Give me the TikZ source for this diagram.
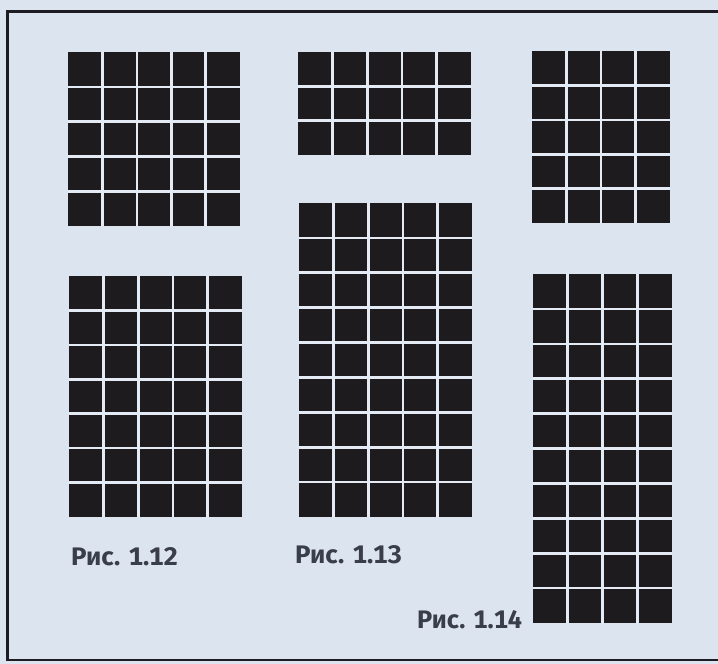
\documentclass[tikz,border=0pt]{standalone}
\usepackage{fontspec}
\setmainfont{Fira Sans}[Numbers=Monospaced]
\definecolor{bgc}{HTML}{DCE5EF}
\definecolor{cellc}{HTML}{1E1B1E}
\definecolor{gapc}{HTML}{E4EBF4}
\definecolor{framec}{HTML}{1C1C22}
\definecolor{labelc}{HTML}{3A3D4A}
\newcommand\gridblock[6]{%
  \fill[cellc] (#1,#2) rectangle (#3,#4);
  \pgfmathsetmacro\gbdx{(#3-#1)/#5}%
  \pgfmathsetmacro\gbdy{(#4-#2)/#6}%
  \pgfmathtruncatemacro\gbnc{#5-1}%
  \pgfmathtruncatemacro\gbnr{#6-1}%
  \foreach \gi in {1,...,\gbnc} {\draw[gapline] ({#1+\gi*\gbdx},#2) -- ({#1+\gi*\gbdx},#4);}
  \foreach \gj in {1,...,\gbnr} {\draw[gapline] (#1,{#2+\gj*\gbdy}) -- (#3,{#2+\gj*\gbdy});}
}
\newcommand\figtext[2]{\resizebox{#1pt}{18pt}{#2}}
\begin{document}
\begin{tikzpicture}[x=1pt,y=-1pt,
  gapline/.style={draw=gapc,line width=2.6pt},
  framel/.style={draw=framec,line width=2.2pt},
  figlabel/.style={anchor=base west,inner sep=0pt,text=labelc,font=\bfseries\fontsize{25}{25}\selectfont}]
\fill[bgc] (0,0) rectangle (718,664);
\useasboundingbox (0,0) rectangle (718,664);
% frame
\draw[framel] (718,11.5) -- (7.5,11.5) -- (7.5,660) -- (718,660);
% grids
\gridblock{68}{52}{240}{226}{5}{5}
\gridblock{69}{276}{242}{517}{5}{7}
\gridblock{298}{52}{471}{155}{5}{3}
\gridblock{299}{203}{472}{517}{5}{9}
\gridblock{532}{51}{670}{223}{4}{5}
\gridblock{533}{274}{672}{623}{4}{10}
% labels
\node[figlabel] (l12) at (71,565) {\figtext{107}{Рис. 1.12}};
\node[figlabel] (l13) at (295,563) {\figtext{107}{Рис. 1.13}};
\node[figlabel] (l14) at (417,628) {\figtext{105}{Рис. 1.14}};
\end{tikzpicture}
\end{document}
